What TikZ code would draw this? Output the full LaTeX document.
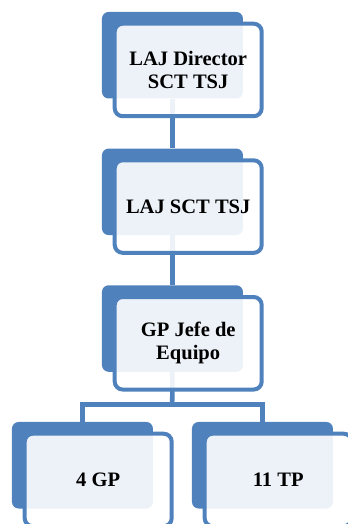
\documentclass[tikz,border=0pt]{standalone}
\usepackage{fontspec}
\setmainfont{Liberation Serif}
\usetikzlibrary{positioning,backgrounds}
\definecolor{boxblue}{HTML}{4F81BD}
\tikzset{
  backbox/.style={fill=boxblue, draw=none, rounded corners=5pt, inner sep=0pt,
    minimum width=105.75pt, minimum height=64.9pt, anchor=north west},
  frontbox/.style={draw=boxblue, line width=3pt, fill=white, fill opacity=0.9,
    text opacity=1, rounded corners=6pt, inner sep=0pt, align=center,
    minimum width=110.25pt, minimum height=69.4pt, anchor=north west,
    font=\bfseries\fontsize{15.4}{17.3}\selectfont},
  link/.style={draw=boxblue, line width=3.4pt}
}
\begin{document}
\begin{tikzpicture}[x=0.75pt, y=-0.75pt]
    \clip (0,0) rectangle (348,524);

    % Back tiles
    \node[backbox] (dirB) at (101.7,11.7) {};
    \node[backbox] (sctB) at (101.7,148.3) {};
    \node[backbox] (jefeB) at (101.7,285) {};
    \node[backbox] (gpB) at (11.7,421.7) {};
    \node[backbox] (tpB) at (191.7,421.7) {};

    % Front tiles with labels
    \node[frontbox, below right=7.5pt and 8.25pt of dirB.north west] (dir) {LAJ Director\\SCT TSJ};
    \node[frontbox, below right=7.5pt and 8.25pt of sctB.north west] (sct) {LAJ SCT TSJ};
    \node[frontbox, below right=7.5pt and 8.25pt of jefeB.north west] (jefe) {GP Jefe de\\Equipo};
    \node[frontbox, below right=7.5pt and 8.25pt of gpB.north west] (gp) {4 GP};
    \node[frontbox, below right=7.5pt and 8.25pt of tpB.north west] (tp) {11 TP};

    % Connectors
    \coordinate (fork) at (172.2,404.5);
    \begin{pgfonlayer}{background}
        \draw[link] (dirB.south) -- (sctB.north);
        \draw[link] (sctB.south) -- (jefeB.north);
        \draw[link] (jefeB.south) -- (fork);
        \draw[link] (gpB.north) |- (fork) -| (tpB.north);
    \end{pgfonlayer}
\end{tikzpicture}
\end{document}
